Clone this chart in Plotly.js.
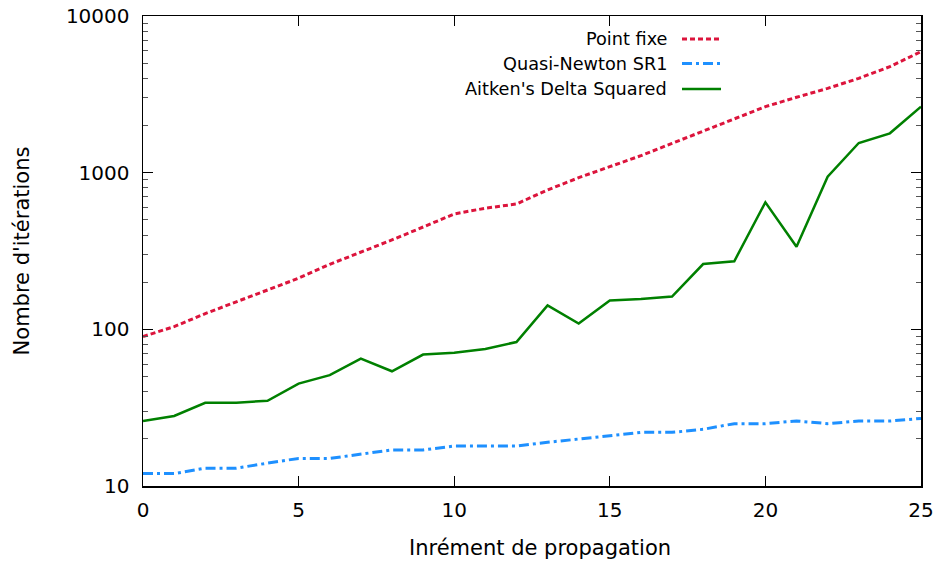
<!DOCTYPE html>
<html>
<head>
<meta charset="utf-8">
<script src="https://cdn.plot.ly/plotly-3.0.1.min.js"></script>
<style>html,body{margin:0;padding:0;background:#fff;}#chart{width:940px;height:565px;}</style>
</head>
<body>
<div id="chart"></div>
<script>
const increments = [0,1,2,3,4,5,6,7,8,9,10,11,12,13,14,15,16,17,18,19,20,21,22,23,24,25];
const pointFixe = [90,104,126,150,178,212,260,310,372,450,545,593,631,775,929,1092,1283,1538,1845,2223,2638,3027,3452,4000,4750,5920];
const quasiNewton = [12,12,13,13,14,15,15,16,17,17,18,18,18,19,20,21,22,22,23,25,25,26,25,26,26,27];
const aitken = [26,28,34,34,35,45,51,65,54,69,71,75,83,142,109,153,156,162,261,272,647,337,942,1546,1783,2638];
const seriesNames = ["Point fixe", "Quasi-Newton SR1", "Aitken's Delta Squared"];
const yTickVals = [10,100,1000,10000];
const yTickText = ["10","100","1000","10000"];
const xTickVals = [0,5,10,15,20,25];
const xTitle = "Inrément de propagation";
const yTitle = "Nombre d'itérations";

const colors = ["#dc143c", "#1e90ff", "#008000"];
const dashes = ["5px,3px", "10px,4px,3px,4px", "solid"];
const widths = [3, 3, 2.5];
const ys = [pointFixe, quasiNewton, aitken];

const traces = ys.map((y, i) => ({
  x: increments, y: y, type: 'scatter', mode: 'lines', name: seriesNames[i],
  line: {color: colors[i], dash: dashes[i], width: widths[i]}, showlegend: false
}));

const titleFont = {family: 'DejaVu Sans', size: 21, color: '#000'};
const tickFont = {family: 'DejaVu Sans', size: 20, color: '#000'};
const annotations = [];
const shapes = [];
const legendY = [39, 63.5, 89];
seriesNames.forEach((n, i) => {
  const yp = 1 - (legendY[i] - 16) / 470;
  annotations.push({xref: 'paper', yref: 'paper', x: (669 - 143) / 778, y: yp, text: n,
    showarrow: false, xanchor: 'right', yanchor: 'middle', font: {family: 'DejaVu Sans', size: 17.7, color: '#000'}});
  shapes.push({type: 'line', xref: 'paper', yref: 'paper', x0: (682 - 143) / 778, x1: (721 - 143) / 778,
    y0: yp, y1: yp, line: {color: colors[i], dash: dashes[i], width: widths[i]}});
});
annotations.push({xref: 'paper', yref: 'paper', x: (540 - 143) / 778, y: 0, yshift: -62, text: xTitle,
  showarrow: false, xanchor: 'center', yanchor: 'middle', font: titleFont});

const layout = {
  width: 940, height: 565,
  margin: {l: 143, r: 19, t: 16, b: 79},
  paper_bgcolor: '#fff', plot_bgcolor: '#fff',
  font: tickFont,
  showlegend: false,
  xaxis: {
    range: [0, 25], tickvals: xTickVals, ticks: 'inside', ticklen: 10, tickwidth: 1, tickcolor: '#000',
    showline: true, linecolor: '#000', linewidth: 1.5, mirror: 'ticks', showgrid: false, zeroline: false,
    tickfont: tickFont, ticklabelstandoff: 5
  },
  yaxis: {
    type: 'log', range: [1, 4], tickvals: yTickVals, ticktext: yTickText, ticks: 'inside', ticklen: 10, tickwidth: 1, tickcolor: '#000',
    minor: {ticks: 'inside', ticklen: 5, tickcolor: '#555', tickvals: [20,30,40,50,60,70,80,90,200,300,400,500,600,700,800,900,2000,3000,4000,5000,6000,7000,8000,9000]},
    showline: true, linecolor: '#000', linewidth: 1.5, mirror: 'ticks', showgrid: false, zeroline: false,
    title: {text: yTitle, font: titleFont, standoff: 30},
    tickfont: tickFont, ticklabelstandoff: 8
  },
  annotations: annotations,
  shapes: shapes
};

Plotly.newPlot('chart', traces, layout, {staticPlot: true});
</script>
</body>
</html>
